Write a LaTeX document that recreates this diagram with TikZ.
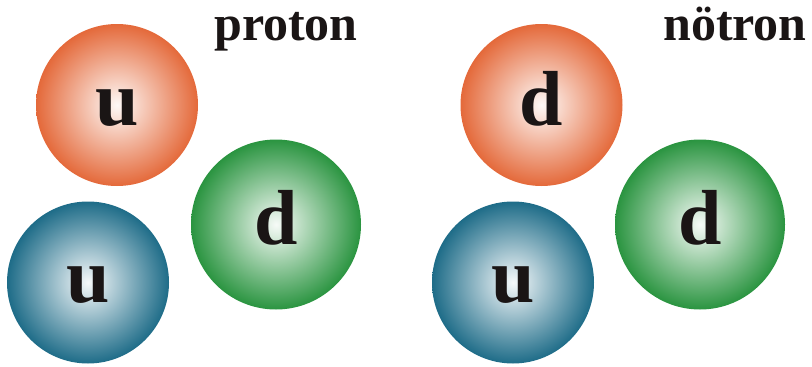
\documentclass[tikz,border=0pt]{standalone}
\usepackage{fontspec}
\setmainfont{Liberation Serif}
\usetikzlibrary{calc, positioning}

\definecolor{quarkorange}{HTML}{E4693A}
\definecolor{quarkblue}{HTML}{1E6C88}
\definecolor{quarkgreen}{HTML}{2A9440}
\definecolor{inkdark}{HTML}{1A1515}

\tikzset{
    quarkball/.style={shading=radial, inner color=#1!4!white, outer color=#1},
    quarkname/.style={anchor=base, inner sep=0pt, text=inkdark,
        font=\fontsize{78}{78}\selectfont\bfseries},
    hadronname/.style={anchor=base west, inner sep=0pt, text=inkdark,
        font=\fontsize{50}{50}\selectfont\bfseries}
}

\begin{document}
\begin{tikzpicture}[x=1pt, y=-1pt]
\def\rS{81}
\def\rL{85}
\def\drop{20}

\useasboundingbox (0,0) rectangle (812,367);

% proton
\coordinate (PA) at (117,105);
\coordinate (PB) at (88,282.5);
\coordinate (PC) at (276,224.5);

\shade[quarkball=quarkorange] (PA) circle (\rS);
\shade[quarkball=quarkblue] (PB) circle (\rS);
\shade[quarkball=quarkgreen] (PC) circle (\rL);

\node[quarkname] (pa) at ($(PA)+(0,\drop)$) {u};
\node[quarkname] (pb) at ($(PB)+(0,\drop)$) {u};
\node[quarkname] (pc) at ($(PC)+(0,\drop)$) {d};

\node[hadronname] (proton) at (214,40) {proton};

% nötron
\coordinate (NA) at (541.5,105);
\coordinate (NB) at (513,282.5);
\coordinate (NC) at (700,224.5);

\shade[quarkball=quarkorange] (NA) circle (\rS);
\shade[quarkball=quarkblue] (NB) circle (\rS);
\shade[quarkball=quarkgreen] (NC) circle (\rL);

\node[quarkname] (na) at ($(NA)+(0,\drop)$) {d};
\node[quarkname] (nb) at ($(NB)+(0,\drop)$) {u};
\node[quarkname] (nc) at ($(NC)+(0,\drop)$) {d};

\node[hadronname] (notron) at (663,40) {nötron};
\end{tikzpicture}
\end{document}
